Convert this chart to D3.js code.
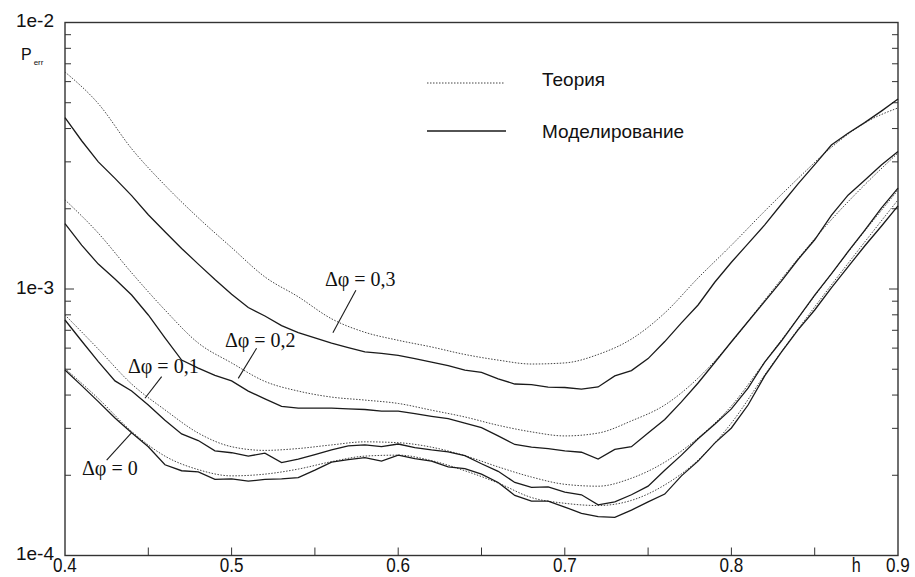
<!DOCTYPE html>
<html>
<head>
<meta charset="utf-8">
<script src="https://cdn.jsdelivr.net/npm/d3@7"></script>
<style>
  body { margin: 0; background: #fff; }
  svg { display: block; }
</style>
</head>
<body>
<div id="chart"></div>
<script>
// h grid for the theory curves (dotted) and the simulation curves (solid)
const hTheory = [0.40, 0.42, 0.44, 0.46, 0.48, 0.50, 0.52, 0.54, 0.56, 0.58, 0.60, 0.62, 0.64,
  0.66, 0.68, 0.70, 0.72, 0.74, 0.76, 0.78, 0.80, 0.82, 0.84, 0.86, 0.88, 0.90];
const hSim = [0.40, 0.41, 0.42, 0.43, 0.44, 0.45, 0.46, 0.47, 0.48, 0.49,
  0.50, 0.51, 0.52, 0.53, 0.54, 0.55, 0.56, 0.57, 0.58, 0.59,
  0.60, 0.61, 0.62, 0.63, 0.64, 0.65, 0.66, 0.67, 0.68, 0.69,
  0.70, 0.71, 0.72, 0.73, 0.74, 0.75, 0.76, 0.77, 0.78, 0.79,
  0.80, 0.81, 0.82, 0.83, 0.84, 0.85, 0.86, 0.87, 0.88, 0.89, 0.90];

// Теория
const theory03 = [6.52e-3, 4.96e-3, 3.36e-3, 2.45e-3, 1.85e-3, 1.43e-3, 1.11e-3, 9.35e-4, 7.73e-4, 6.88e-4,
  6.42e-4, 6.06e-4, 5.68e-4, 5.41e-4, 5.23e-4, 5.28e-4, 5.68e-4, 6.49e-4, 8.13e-4, 1.10e-3,
  1.46e-3, 1.96e-3, 2.60e-3, 3.40e-3, 4.20e-3, 4.78e-3];
const theory02 = [2.16e-3, 1.62e-3, 1.15e-3, 8.34e-4, 6.27e-4, 5.28e-4, 4.50e-4, 4.14e-4, 3.93e-4, 3.83e-4,
  3.72e-4, 3.51e-4, 3.31e-4, 3.08e-4, 2.91e-4, 2.81e-4, 2.88e-4, 3.20e-4, 3.67e-4, 4.63e-4,
  6.32e-4, 9.09e-4, 1.30e-3, 1.82e-3, 2.46e-3, 3.24e-3];
const theory01 = [7.99e-4, 5.95e-4, 4.40e-4, 3.52e-4, 2.88e-4, 2.56e-4, 2.48e-4, 2.52e-4, 2.60e-4, 2.67e-4,
  2.65e-4, 2.55e-4, 2.37e-4, 2.15e-4, 1.97e-4, 1.85e-4, 1.82e-4, 1.95e-4, 2.24e-4, 2.76e-4,
  3.64e-4, 5.32e-4, 7.78e-4, 1.14e-3, 1.65e-3, 2.35e-3];
const theory00 = [5.03e-4, 3.88e-4, 2.92e-4, 2.36e-4, 2.10e-4, 1.99e-4, 2.02e-4, 2.11e-4, 2.25e-4, 2.36e-4,
  2.38e-4, 2.27e-4, 2.08e-4, 1.87e-4, 1.65e-4, 1.57e-4, 1.54e-4, 1.61e-4, 1.84e-4, 2.28e-4,
  3.14e-4, 4.76e-4, 7.07e-4, 1.035e-3, 1.50e-3, 2.16e-3];

// Моделирование
const sim03 = [4.40e-3, 3.60e-3, 3.00e-3, 2.60e-3, 2.24e-3, 1.90e-3, 1.64e-3, 1.42e-3, 1.24e-3, 1.085e-3,
  9.56e-4, 8.52e-4, 7.92e-4, 7.29e-4, 6.86e-4, 6.55e-4, 6.27e-4, 6.03e-4, 5.81e-4, 5.73e-4,
  5.64e-4, 5.48e-4, 5.32e-4, 5.16e-4, 4.96e-4, 4.87e-4, 4.60e-4, 4.40e-4, 4.38e-4, 4.28e-4,
  4.27e-4, 4.21e-4, 4.29e-4, 4.72e-4, 4.94e-4, 5.48e-4, 6.35e-4, 7.46e-4, 8.71e-4, 1.06e-3,
  1.26e-3, 1.48e-3, 1.74e-3, 2.08e-3, 2.48e-3, 2.93e-3, 3.47e-3, 3.84e-3, 4.21e-3, 4.65e-3, 5.16e-3];
const sim02 = [1.76e-3, 1.46e-3, 1.24e-3, 1.09e-3, 9.49e-4, 7.99e-4, 6.55e-4, 5.41e-4, 5.05e-4, 4.74e-4,
  4.52e-4, 4.14e-4, 3.87e-4, 3.63e-4, 3.57e-4, 3.57e-4, 3.57e-4, 3.55e-4, 3.53e-4, 3.48e-4,
  3.48e-4, 3.41e-4, 3.33e-4, 3.26e-4, 3.14e-4, 3.02e-4, 2.81e-4, 2.61e-4, 2.55e-4, 2.52e-4,
  2.47e-4, 2.44e-4, 2.30e-4, 2.50e-4, 2.56e-4, 2.88e-4, 3.24e-4, 3.77e-4, 4.44e-4, 5.30e-4,
  6.34e-4, 7.55e-4, 8.98e-4, 1.07e-3, 1.29e-3, 1.53e-3, 1.89e-3, 2.25e-3, 2.56e-3, 2.92e-3, 3.28e-3];
const sim01 = [7.65e-4, 6.38e-4, 5.34e-4, 4.52e-4, 4.14e-4, 3.67e-4, 3.22e-4, 2.86e-4, 2.70e-4, 2.47e-4,
  2.43e-4, 2.36e-4, 2.42e-4, 2.23e-4, 2.30e-4, 2.39e-4, 2.49e-4, 2.58e-4, 2.60e-4, 2.56e-4,
  2.62e-4, 2.54e-4, 2.49e-4, 2.45e-4, 2.37e-4, 2.21e-4, 2.07e-4, 1.88e-4, 1.80e-4, 1.81e-4,
  1.73e-4, 1.69e-4, 1.55e-4, 1.59e-4, 1.69e-4, 1.82e-4, 2.09e-4, 2.38e-4, 2.74e-4, 3.11e-4,
  3.55e-4, 4.25e-4, 5.32e-4, 6.38e-4, 7.78e-4, 9.49e-4, 1.14e-3, 1.38e-3, 1.66e-3, 2.01e-3, 2.39e-3];
const sim00 = [4.97e-4, 4.34e-4, 3.78e-4, 3.28e-4, 2.89e-4, 2.56e-4, 2.19e-4, 2.08e-4, 2.06e-4, 1.93e-4,
  1.94e-4, 1.90e-4, 1.93e-4, 1.94e-4, 1.96e-4, 2.09e-4, 2.24e-4, 2.29e-4, 2.33e-4, 2.26e-4,
  2.38e-4, 2.31e-4, 2.26e-4, 2.15e-4, 2.12e-4, 2.02e-4, 1.88e-4, 1.68e-4, 1.60e-4, 1.60e-4,
  1.52e-4, 1.44e-4, 1.40e-4, 1.39e-4, 1.48e-4, 1.59e-4, 1.70e-4, 1.99e-4, 2.26e-4, 2.64e-4,
  3.01e-4, 3.67e-4, 4.72e-4, 5.80e-4, 7.02e-4, 8.34e-4, 1.01e-3, 1.21e-3, 1.45e-3, 1.72e-3, 2.05e-3];

const xTicks = [0.40, 0.45, 0.50, 0.55, 0.60, 0.65, 0.70, 0.75, 0.80, 0.85, 0.90];
const xTickLabels = ['0.4', '0.5', '0.6', '0.7', '0.8', '0.9'];
const yLabels = ['1e-4', '1e-3', '1e-2'];
const legendNames = ['Теория', 'Моделирование'];

// curve labels: text position, leader line from (h1,p1) to (h2,p2)
const annotations = [
  { text: 'Δφ = 0,3', h: 0.556, p: 1.026e-3, h1: 0.5746, p1: 9.9e-4, h2: 0.5608, p2: 6.85e-4 },
  { text: 'Δφ = 0,2', h: 0.496, p: 6.06e-4, h1: 0.515, p1: 5.99e-4, h2: 0.504, p2: 4.62e-4 },
  { text: 'Δφ = 0,1', h: 0.4378, p: 4.84e-4, h1: 0.458, p1: 4.69e-4, h2: 0.448, p2: 3.89e-4 },
  { text: 'Δφ = 0', h: 0.4102, p: 2.0e-4, h1: 0.425, p1: 2.28e-4, h2: 0.440, p2: 2.89e-4 }
];

const width = 915, height = 577;
const margin = { left: 65, right: 898, top: 22.5, bottom: 555.5 };

const svg = d3.select('#chart').append('svg')
  .attr('width', width)
  .attr('height', height)
  .style('background', '#fff');

const x = d3.scaleLinear().domain([0.4, 0.9]).range([margin.left, margin.right]);
const y = d3.scaleLog().domain([1e-4, 1e-2]).range([margin.bottom, margin.top]);

const axisColor = '#333';

// frame
svg.append('rect')
  .attr('x', margin.left).attr('y', margin.top)
  .attr('width', margin.right - margin.left).attr('height', margin.bottom - margin.top)
  .attr('fill', 'none')
  .attr('stroke', axisColor)
  .attr('stroke-width', 1.4);

// bottom ticks (pointing up)
svg.append('g').selectAll('line')
  .data(xTicks.slice(1, -1))
  .enter().append('line')
  .attr('x1', d => x(d)).attr('x2', d => x(d))
  .attr('y1', margin.bottom).attr('y2', margin.bottom - 8)
  .attr('stroke', axisColor).attr('stroke-width', 1);

// left / right log ticks
const yTicks = y.ticks().filter(d => d > 1e-4 && d < 1e-2);
const isMajor = d => Math.abs(Math.log10(d) - Math.round(Math.log10(d))) < 1e-6;
svg.append('g').selectAll('line')
  .data(yTicks)
  .enter().append('line')
  .attr('x1', margin.left).attr('x2', d => margin.left + (isMajor(d) ? 9 : 6))
  .attr('y1', d => y(d)).attr('y2', d => y(d))
  .attr('stroke', axisColor).attr('stroke-width', 1);
svg.append('g').selectAll('line')
  .data(yTicks)
  .enter().append('line')
  .attr('x1', margin.right).attr('x2', d => margin.right - (isMajor(d) ? 9 : 6))
  .attr('y1', d => y(d)).attr('y2', d => y(d))
  .attr('stroke', axisColor).attr('stroke-width', 1);

// tick labels (tall, narrow look of the original)
const sans = 'Liberation Sans, Arial, sans-serif';
svg.append('g').selectAll('text')
  .data(xTickLabels)
  .enter().append('text')
  .attr('transform', d => `translate(${x(+d)},572) scale(0.95,1.15)`)
  .attr('text-anchor', 'middle')
  .attr('font-family', sans)
  .attr('font-size', 18)
  .attr('fill', '#111')
  .text(d => d);

svg.append('text')
  .attr('transform', `translate(${x(0.875)},572) scale(0.95,1.15)`)
  .attr('text-anchor', 'middle')
  .attr('font-family', sans).attr('font-size', 17).attr('fill', '#111')
  .text('h');

svg.append('g').selectAll('text')
  .data(yLabels)
  .enter().append('text')
  .attr('x', 54)
  .attr('y', d => y(+d) + 4.5)
  .attr('text-anchor', 'end')
  .attr('font-family', sans)
  .attr('font-size', 19)
  .attr('fill', '#111')
  .text(d => d);

const pLabel = svg.append('text')
  .attr('x', 21).attr('y', 60)
  .attr('font-family', sans).attr('font-size', 16).attr('fill', '#111');
pLabel.append('tspan').text('P');
pLabel.append('tspan').attr('font-size', 8).attr('dx', 2).attr('dy', 5).text('err');

// curves
const lineTheory = d3.line()
  .x(d => x(d[0])).y(d => y(d[1]))
  .curve(d3.curveMonotoneX);
const lineSim = d3.line()
  .x(d => x(d[0])).y(d => y(d[1]));

const theorySeries = [theory03, theory02, theory01, theory00];
const simSeries = [sim03, sim02, sim01, sim00];

const plot = svg.append('g');

plot.selectAll('path.theory')
  .data(theorySeries)
  .enter().append('path')
  .attr('class', 'theory')
  .attr('d', vals => lineTheory(vals.map((v, i) => [hTheory[i], v])))
  .attr('fill', 'none')
  .attr('stroke', '#444')
  .attr('stroke-width', 1)
  .attr('stroke-dasharray', '1.5,1.5');

plot.selectAll('path.sim')
  .data(simSeries)
  .enter().append('path')
  .attr('class', 'sim')
  .attr('d', vals => lineSim(vals.map((v, i) => [hSim[i], v])))
  .attr('fill', 'none')
  .attr('stroke', '#1a1a1a')
  .attr('stroke-width', 1.3);

// legend
const legend = svg.append('g');
legend.append('line')
  .attr('x1', 427).attr('x2', 505).attr('y1', 83).attr('y2', 83)
  .attr('stroke', '#444').attr('stroke-width', 1).attr('stroke-dasharray', '1.5,1.5');
legend.append('line')
  .attr('x1', 427).attr('x2', 506).attr('y1', 131).attr('y2', 131)
  .attr('stroke', '#1a1a1a').attr('stroke-width', 1.3);
legend.selectAll('text')
  .data(legendNames)
  .enter().append('text')
  .attr('x', 542)
  .attr('y', (d, i) => i === 0 ? 86 : 138)
  .attr('font-family', sans)
  .attr('font-size', 19)
  .attr('fill', '#111')
  .text(d => d);

// curve labels
const ann = svg.append('g');
ann.selectAll('line')
  .data(annotations)
  .enter().append('line')
  .attr('x1', d => x(d.h1)).attr('y1', d => y(d.p1))
  .attr('x2', d => x(d.h2)).attr('y2', d => y(d.p2))
  .attr('stroke', '#1a1a1a').attr('stroke-width', 1.1);
ann.selectAll('text')
  .data(annotations)
  .enter().append('text')
  .attr('x', d => x(d.h))
  .attr('y', d => y(d.p))
  .attr('font-family', 'Liberation Serif, Times New Roman, serif')
  .attr('font-size', 20)
  .attr('fill', '#111')
  .text(d => d.text);
</script>
</body>
</html>
